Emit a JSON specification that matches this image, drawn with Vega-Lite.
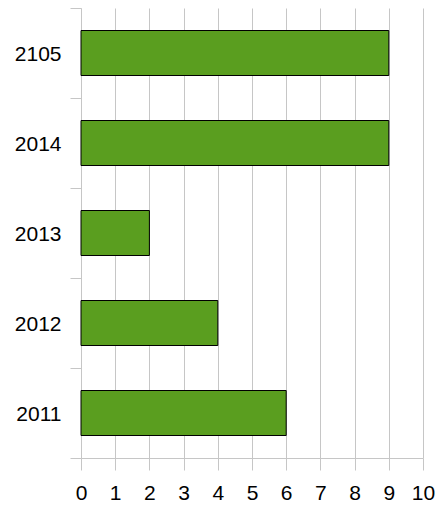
{
  "$schema": "https://vega.github.io/schema/vega-lite/v6.json",
  "autosize": "none",
  "padding": {"left": 81, "top": 8, "right": 15, "bottom": 48},
  "width": 342,
  "height": 450,
  "background": "white",
  "config": {"view": {"stroke": null}, "font": "Liberation Sans"},
  "data": {"values": [
    {"year": "2105", "count": 9},
    {"year": "2014", "count": 9},
    {"year": "2013", "count": 2},
    {"year": "2012", "count": 4},
    {"year": "2011", "count": 6}
  ]},
  "mark": {"type": "bar", "color": "#5a9e1f", "stroke": "#000000", "strokeWidth": 1, "height": {"band": 0.5}},
  "encoding": {
    "y": {
      "field": "year", "type": "nominal", "sort": null,
      "scale": {"paddingInner": 0, "paddingOuter": 0},
      "axis": {
        "title": null, "bandPosition": 1, "tickExtra": true,
        "tickSize": 11, "tickColor": "#c6c6c6", "domainColor": "#c6c6c6",
        "labelFontSize": 21, "labelColor": "#000000", "labelPadding": 9,
        "labelOffset": 1.5,
        "labelFont": "Liberation Sans", "grid": false
      }
    },
    "x": {
      "field": "count", "type": "quantitative",
      "scale": {"domain": [0, 10], "nice": false},
      "axis": {
        "title": null, "values": [0,1,2,3,4,5,6,7,8,9,10],
        "tickSize": 12, "tickColor": "#c6c6c6", "domainColor": "#c6c6c6",
        "gridColor": "#c6c6c6", "gridOpacity": 1,
        "labelFontSize": 21, "labelColor": "#000000", "labelPadding": 12,
        "labelFont": "Liberation Sans", "labelFlush": false
      }
    }
  }
}
